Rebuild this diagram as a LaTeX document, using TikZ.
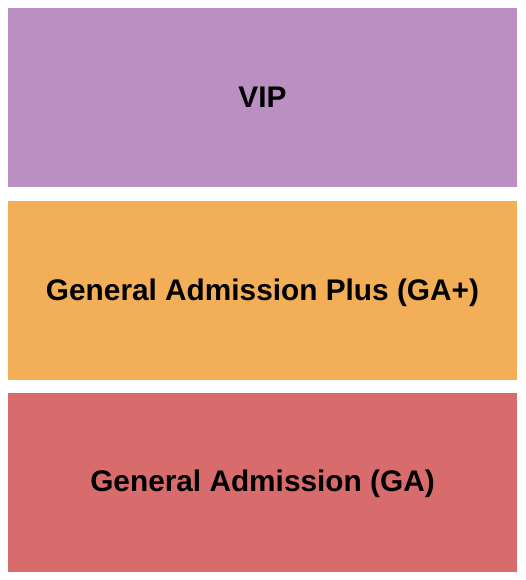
\documentclass[tikz,border=0pt]{standalone}
\usepackage{fontspec}
\setmainfont{Liberation Sans}
\definecolor{vipc}{RGB}{186,143,194}
\definecolor{gapc}{RGB}{243,174,88}
\definecolor{gac}{RGB}{216,108,108}
\begin{document}
\begin{tikzpicture}[x=1pt,y=-1pt,
  zone/.style={draw=none,inner sep=0pt,minimum width=509pt,minimum height=179pt,
    text height=19.5pt,text depth=0pt,
    font=\fontsize{29.8}{34}\selectfont\bfseries,text=black}]
\useasboundingbox (0,0) rectangle (525,580);
\fill[white] (0,0) rectangle (525,580);
\node[zone,fill=vipc] (vip) at (262.5,97.5) {VIP};
\node[zone,fill=gapc] (gaplus) at (262.5,290.5) {General Admission Plus (GA+)};
\node[zone,fill=gac] (ga) at (262.5,482) {General Admission (GA)};
\end{tikzpicture}
\end{document}
